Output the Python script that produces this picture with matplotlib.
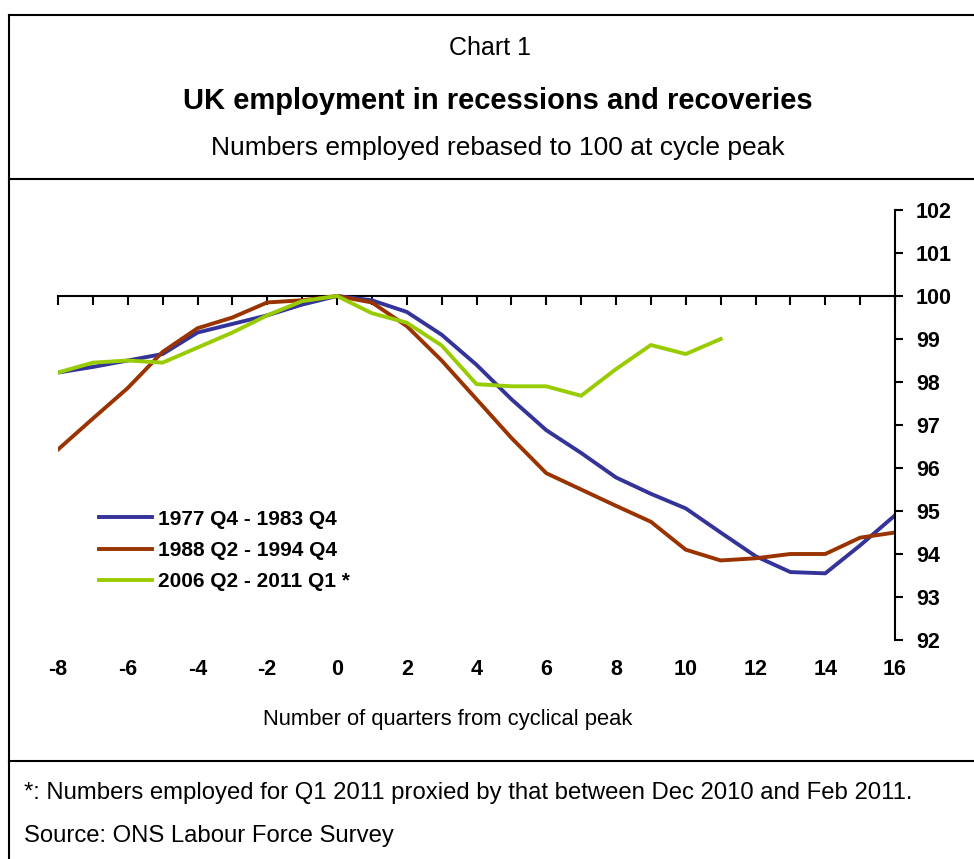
# UK employment in recessions and recoveries
import numpy as np
import matplotlib.pyplot as plt
from matplotlib.lines import Line2D

plt.rcParams['font.family'] = ['Liberation Sans', 'DejaVu Sans']
plt.rcParams['axes.unicode_minus'] = False

# Trimestri dal picco del ciclo
q_7783 = np.arange(-8, 17)
q_8894 = np.arange(-8, 17)
q_0611 = np.arange(-8, 12)

# Occupati ribasati a 100 al picco
emp_7783 = [98.22, 98.35, 98.5, 98.65, 99.15, 99.35, 99.55, 99.8, 100.0, 99.9,
            99.63, 99.1, 98.4, 97.6, 96.88, 96.35, 95.78, 95.4, 95.06, 94.5,
            93.95, 93.58, 93.55, 94.2, 94.9]
emp_8894 = [96.43, 97.15, 97.86, 98.7, 99.25, 99.5, 99.85, 99.9, 100.0, 99.85,
            99.3, 98.5, 97.6, 96.7, 95.88, 95.5, 95.12, 94.75, 94.1, 93.85,
            93.9, 94.0, 94.0, 94.38, 94.5]
emp_0611 = [98.22, 98.45, 98.5, 98.45, 98.8, 99.15, 99.55, 99.88, 100.0, 99.6,
            99.38, 98.85, 97.95, 97.9, 97.9, 97.68, 98.3, 98.86, 98.65, 99.0]

labels = ['1977 Q4 - 1983 Q4', '1988 Q2 - 1994 Q4', '2006 Q2 - 2011 Q1 *']
colors = ['#333399', '#993300', '#99CC00']

W, H = 974, 859
fig = plt.figure(figsize=(W / 100, H / 100), dpi=100)

# Cornici
def fx(px):
    return px / W

def fy(py):
    return 1 - py / H

lw_box = 1.5
fig.add_artist(Line2D([fx(9), fx(9)], [fy(15), 0], color='black', lw=lw_box))
fig.add_artist(Line2D([fx(9), 1], [fy(15), fy(15)], color='black', lw=lw_box))
fig.add_artist(Line2D([fx(9), 1], [fy(179), fy(179)], color='black', lw=lw_box))
fig.add_artist(Line2D([fx(9), 1], [fy(761), fy(761)], color='black', lw=lw_box))

# Titoli
fig.text(fx(490), fy(48), 'Chart 1', ha='center', va='center', fontsize=18)
fig.text(fx(498), fy(101), 'UK employment in recessions and recoveries',
         ha='center', va='center', fontsize=21, fontweight='bold')
fig.text(fx(498), fy(148), 'Numbers employed rebased to 100 at cycle peak',
         ha='center', va='center', fontsize=19)

# Note
fig.text(fx(24), fy(793), '*: Numbers employed for Q1 2011 proxied by that between Dec 2010 and Feb 2011.',
         ha='left', va='center', fontsize=17.2)
fig.text(fx(24), fy(836), 'Source: ONS Labour Force Survey',
         ha='left', va='center', fontsize=17.2)

# Grafico
ax = fig.add_axes([fx(58), fy(640), fx(895) - fx(58), fy(210) - fy(640)])
ax.plot(q_7783, emp_7783, color=colors[0], lw=2.8, label=labels[0])
ax.plot(q_8894, emp_8894, color=colors[1], lw=2.8, label=labels[1])
ax.plot(q_0611, emp_0611, color=colors[2], lw=2.8, label=labels[2])

ax.set_xlim(-8, 16)
ax.set_ylim(92, 102)
ax.spines['left'].set_visible(False)
ax.spines['top'].set_visible(False)
ax.spines['bottom'].set_position(('data', 100))
ax.spines['bottom'].set_linewidth(1.5)
ax.spines['right'].set_linewidth(1.5)
ax.spines['bottom'].set_zorder(0.5)

ax.set_xticks(np.arange(-8, 17, 1))
ax.tick_params(axis='x', direction='out', length=6.5, width=1.5, labelbottom=False)
ax.yaxis.tick_right()
ax.set_yticks(np.arange(92, 103, 1))
ax.tick_params(axis='y', direction='out', length=6, width=1.5, pad=9, labelsize=15.5)
for t in ax.get_yticklabels():
    t.set_fontweight('bold')

sec = ax.secondary_xaxis('bottom')
sec.spines['bottom'].set_visible(False)
sec.set_xticks(np.arange(-8, 17, 2))
sec.tick_params(length=0, pad=14, labelsize=15.5)
for t in sec.get_xticklabels():
    t.set_fontweight('bold')

fig.text(fx(448), fy(720), 'Number of quarters from cyclical peak',
         ha='center', va='center', fontsize=15.8)

leg = ax.legend(loc='upper left', bbox_to_anchor=(fx(80), fy(491)),
                bbox_transform=fig.transFigure, frameon=False,
                handlelength=2.55, handletextpad=0.29, labelspacing=0.58,
                prop={'size': 15, 'weight': 'bold'})

fig.savefig('out.png', dpi=100)
